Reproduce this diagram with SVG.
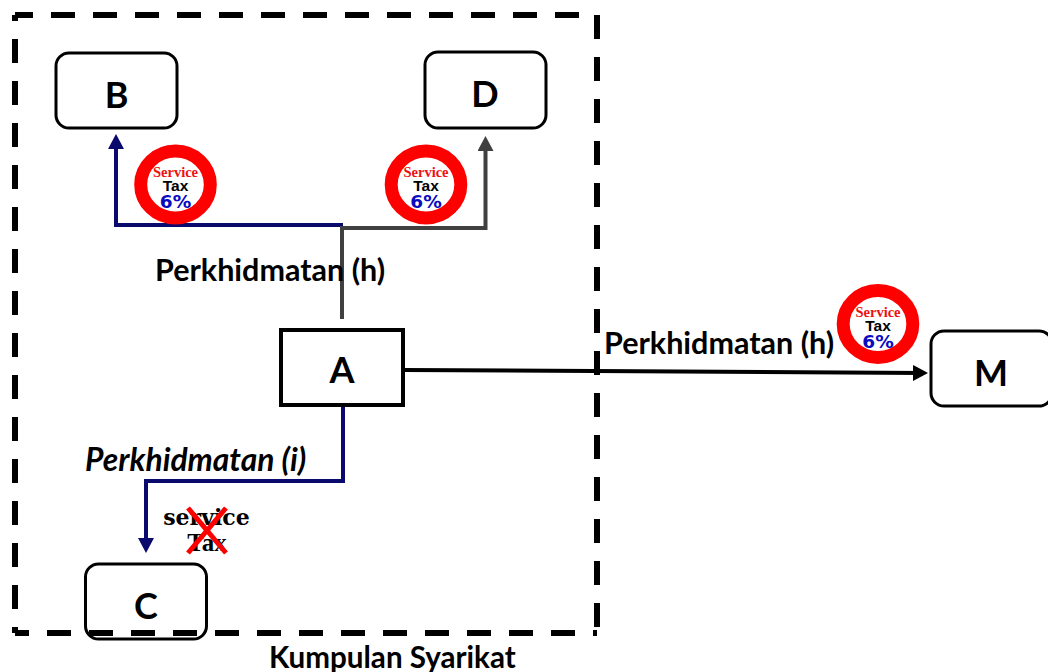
<svg xmlns="http://www.w3.org/2000/svg" width="1048" height="672" viewBox="0 0 1048 672">
<style>
text{font-family:Lato,"Open Sans","Liberation Sans",sans-serif;font-weight:700;fill:#000}
.n{font-size:36px;text-anchor:middle}
.l{font-size:30.500px}
.box{fill:#fff;stroke:#000;stroke-width:3}
.dash{fill:none;stroke:#000;stroke-width:6;stroke-dasharray:24 18}
.c{fill:none;stroke-width:4}
.ring{fill:#fff;stroke:#f00;stroke-width:13}
.s1{font-family:"Liberation Serif",serif;font-size:14.500px;fill:#f01010;text-anchor:middle}
.s2{font-family:"Liberation Sans",sans-serif;font-size:15.500px;text-anchor:middle}
.s3{font-family:"DejaVu Sans",sans-serif;font-size:18.500px;fill:#0a0ac0;text-anchor:middle}
</style>
<defs>
<marker id="an" markerUnits="userSpaceOnUse" markerWidth="16" markerHeight="16" refX="10" refY="8" orient="auto"><path d="M0 0L15 8L0 16Z" fill="#0a0a6e"/></marker>
<marker id="ag" markerUnits="userSpaceOnUse" markerWidth="16" markerHeight="16" refX="10" refY="8" orient="auto"><path d="M0 0L15 8L0 16Z" fill="#404040"/></marker>
<marker id="ak" markerUnits="userSpaceOnUse" markerWidth="16" markerHeight="16" refX="10" refY="8" orient="auto"><path d="M0 0L15 8L0 16Z" fill="#000"/></marker>
</defs>
<g id="boundary">
<path class="dash" stroke-dashoffset="6" d="M15 15H597V633"/>
<path class="dash" stroke-dashoffset="18" d="M15 15V633"/>
<path class="dash" stroke-dashoffset="10" d="M15 633H597"/>
</g>
<g id="node-B"><rect class="box" x="56" y="53" width="121" height="75" rx="13"/><text class="n" x="116.500" y="108">B</text></g>
<g id="node-D"><rect class="box" x="425" y="52" width="121" height="76" rx="13"/><text class="n" x="485" y="107">D</text></g>
<g id="node-C"><rect class="box" style="fill:none" x="85.500" y="564" width="121" height="75" rx="13"/><text class="n" x="146" y="619">C</text></g>
<g id="node-M"><rect class="box" x="931" y="331" width="121" height="75" rx="13"/><text class="n" x="991" y="386">M</text></g>
<g id="node-A"><rect x="281" y="330" width="122" height="75" fill="#fff" stroke="#000" stroke-width="4"/><text class="n" x="342" y="383">A</text></g>
<g id="connectors">
<path class="c" stroke="#0a0a6e" marker-end="url(#an)" d="M343 225H116V139"/>
<path class="c" stroke="#404040" marker-end="url(#ag)" d="M342 319V228H485.500V141"/>
<path class="c" stroke="#000" marker-end="url(#ak)" d="M403 370L923 373"/>
<path class="c" stroke="#0a0a6e" marker-end="url(#an)" d="M343 407V481H146V548"/>
</g>
<g id="label-h1"><text class="l" x="155" y="281">Perkhidmatan (h)</text></g>
<g id="label-h2"><text class="l" x="604" y="354">Perkhidmatan (h)</text></g>
<g id="label-i"><text class="l" style="font-style:italic;font-size:31.800px" x="85" y="471">Perkhidmatan (i)</text></g>
<g id="label-group"><text x="269" y="668" style="font-size:29.600px">Kumpulan Syarikat</text></g>
<g id="badge-1" transform="translate(175.500 184.500)"><ellipse class="ring" rx="34.800" ry="33.500"/><text class="s1" y="-7.500">Service</text><text class="s2" y="6.500">Tax</text><text class="s3" y="23.500">6%</text></g>
<g id="badge-2" transform="translate(426 184.500)"><ellipse class="ring" rx="34.800" ry="33.500"/><text class="s1" y="-7.500">Service</text><text class="s2" y="6.500">Tax</text><text class="s3" y="23.500">6%</text></g>
<g id="badge-3" transform="translate(878 324)"><ellipse class="ring" rx="34.800" ry="33.500"/><text class="s1" y="-7.500">Service</text><text class="s2" y="6.500">Tax</text><text class="s3" y="23.500">6%</text></g>
<g id="no-tax">
<text x="206.500" y="525" style="font-family:'DejaVu Serif',serif;font-size:22px;text-anchor:middle">service</text>
<text x="207" y="551" style="font-family:'Liberation Serif',serif;font-size:25px;text-anchor:middle">Tax</text>
<path d="M188 508L226 553M226 508L188 553" stroke="#f00" stroke-width="5" fill="none"/>
</g>
</svg>
